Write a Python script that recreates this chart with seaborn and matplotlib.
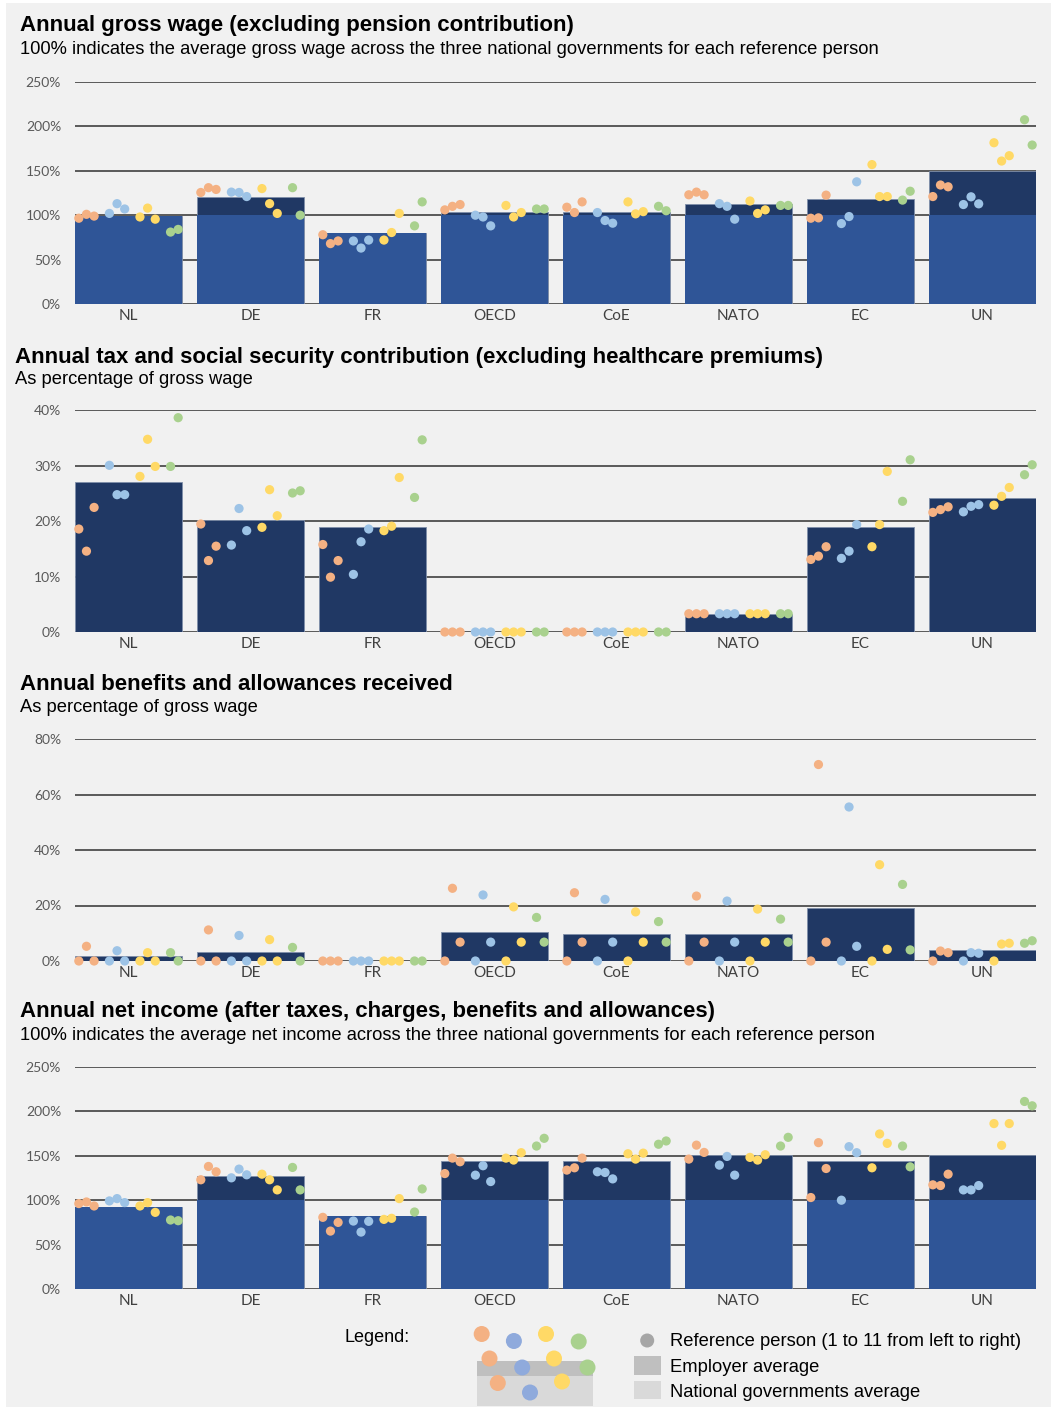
import numpy as np
import pandas as pd
import matplotlib
matplotlib.use("Agg")
import matplotlib.pyplot as plt
from matplotlib.patches import Rectangle, Circle
import seaborn as sns

# ---------------- data ----------------
categories = ["NL", "DE", "FR", "OECD", "CoE", "NATO", "EC", "UN"]
person_groups = ["A", "A", "A", "B", "B", "B", "C", "C", "C", "D", "D"]

gross_avg = [99.0, 121.0, 80.5, 104.0, 104.0, 113.0, 117.7, 149.6]
gross_national = 100.0
gross_persons = [
    [96.6, 101, 99, 102, 113, 107, 98, 108, 95.5, 81, 84],
    [125.6, 131, 129, 126, 125.6, 121, 130, 113, 102, 131, 100],
    [78, 68, 71, 71, 63, 72, 72, 80.5, 102, 88, 115],
    [106, 110, 112, 100, 98, 88, 111, 98, 103, 107, 107],
    [109, 103, 115, 103, 94, 91, 115, 101.5, 104, 110, 105],
    [123, 126, 123, 113, 110, 95.5, 116, 102, 106, 111, 111],
    [96.6, 97, 122.6, 90.6, 98.5, 137.6, 157, 121, 121, 117, 127],
    [121, 134, 132, 112, 120.7, 112.8, 181.6, 161, 167, 207.5, 179],
]

tax_avg = [27.0, 20.2, 19.0, 0.0, 0.0, 3.3, 19.0, 24.2]
tax_persons = [
    [18.6, 14.6, 22.5, 30.1, 24.8, 24.8, 28.1, 34.8, 29.9, 29.9, 38.7],
    [19.5, 12.9, 15.5, 15.7, 22.3, 18.3, 18.9, 25.7, 21.0, 25.1, 25.5],
    [15.8, 9.9, 12.9, 10.4, 16.3, 18.6, 18.3, 19.1, 27.9, 24.3, 34.7],
    [0, 0, 0, 0, 0, 0, 0, 0, 0, 0, 0],
    [0, 0, 0, 0, 0, 0, 0, 0, 0, 0, 0],
    [3.3, 3.3, 3.3, 3.3, 3.3, 3.3, 3.3, 3.3, 3.3, 3.3, 3.3],
    [13.1, 13.7, 15.4, 13.3, 14.6, 19.4, 15.4, 19.4, 29.0, 23.6, 31.1],
    [21.6, 22.1, 22.6, 21.7, 22.7, 23.0, 22.9, 24.5, 26.1, 28.4, 30.2],
]

benefit_avg = [1.8, 3.2, 0.0, 10.5, 9.7, 9.7, 19.2, 3.8]
benefit_persons = [
    [0, 5.3, 0, 0, 3.7, 0, 0, 3.0, 0, 3.0, 0],
    [0, 11.2, 0, 0, 9.2, 0, 0, 7.7, 0, 4.9, 0],
    [0, 0, 0, 0, 0, 0, 0, 0, 0, 0, 0],
    [0, 26.2, 6.8, 0, 23.8, 6.8, 0, 19.5, 6.8, 15.7, 6.8],
    [0, 24.6, 6.8, 0, 22.2, 6.8, 0, 17.7, 6.8, 14.2, 6.8],
    [0, 23.4, 6.8, 0, 21.6, 6.8, 0, 18.7, 6.8, 15.1, 6.8],
    [0, 70.8, 6.8, 0, 55.5, 5.3, 0, 34.7, 4.2, 27.6, 4.0],
    [0, 3.6, 3.0, 0, 3.0, 2.8, 0, 6.1, 6.4, 6.4, 7.3],
]

net_avg = [92.0, 126.7, 81.8, 144.4, 144.0, 150.8, 144.0, 150.8]
net_national = 100.0
net_persons = [
    [96.2, 98, 93.5, 99.2, 101.8, 97.3, 93.5, 97.3, 86.3, 77.7, 76.9],
    [123, 138, 132, 125.2, 135, 128.6, 129.3, 123, 111.6, 136.9, 111.6],
    [80.7, 65.2, 75, 76.5, 64.1, 76.2, 78.4, 79.6, 101.8, 86.7, 112.7],
    [130, 147.4, 143.3, 128.2, 138.8, 121, 147.4, 145.2, 153.5, 161, 169.7],
    [133.9, 136.5, 147.4, 132, 131.2, 124, 152.3, 146.3, 153, 163, 166.7],
    [146.3, 162, 153.8, 139.5, 149.3, 128.2, 148.2, 145.2, 151.2, 161, 170.8],
    [103, 164.8, 135.7, 100, 160.3, 153.5, 136.5, 174.6, 164, 161, 137.6],
    [117.3, 116.5, 129.3, 111.6, 111.6, 116.5, 186.3, 161.8, 186.3, 211.2, 206.3],
]

titles = [
    "Annual gross wage (excluding pension contribution)",
    "Annual tax and social security contribution (excluding healthcare premiums)",
    "Annual benefits and allowances received",
    "Annual net income (after taxes, charges, benefits and allowances)",
]
subtitles = [
    "100% indicates the average gross wage across the three national governments for each reference person",
    "As percentage of gross wage",
    "As percentage of gross wage",
    "100% indicates the average net income across the three national governments for each reference person",
]
yticks_list = [[0, 50, 100, 150, 200, 250], [0, 10, 20, 30, 40],
               [0, 20, 40, 60, 80], [0, 50, 100, 150, 200, 250]]

# ---------------- style ----------------
NAVY = "#203864"
MED = "#2F5597"
BG = "#F1F1F1"
GRID = "#404040"
palette = {"A": "#F4B183", "B": "#9DC3E6", "C": "#FFD966", "D": "#A9D18E"}
LEGEND_DOTS = ["#F4B183", "#8FAADC", "#FFD966", "#A9D18E"]

sns.set_style("white")
plt.rcParams["font.family"] = ["Liberation Sans", "DejaVu Sans"]
TICKFONT = ["Lato", "DejaVu Sans"]

W, H = 1051, 1407
fig = plt.figure(figsize=(W / 100, H / 100), dpi=100, facecolor="white")
fig.patches.append(Rectangle((6 / W, 0), 1 - 6 / W, 1 - 3 / H, transform=fig.transFigure,
                             facecolor=BG, edgecolor="none", zorder=-10))

BW = 0.877
SLOTS = [0, 1, 2, 4, 5, 6, 8, 9, 10, 12, 13]
LEFT, RIGHT = 75, 1036

panels = [
    dict(avg=gross_avg, persons=gross_persons, nat=gross_national, top=82, bottom=304),
    dict(avg=tax_avg, persons=tax_persons, nat=None, top=410.5, bottom=632),
    dict(avg=benefit_avg, persons=benefit_persons, nat=None, top=739, bottom=961),
    dict(avg=net_avg, persons=net_persons, nat=net_national, top=1067, bottom=1289),
]
title_pos = [(20, 26, 50), (15, 357, 380), (20, 684, 708), (20, 1011, 1036)]

for k, p in enumerate(panels):
    ax = fig.add_axes([LEFT / W, 1 - p["bottom"] / H, (RIGHT - LEFT) / W,
                       (p["bottom"] - p["top"]) / H])
    ax.set_facecolor("none")
    df = pd.DataFrame({"cat": categories, "avg": p["avg"]})
    sns.barplot(data=df, x="cat", y="avg", color=NAVY, saturation=1, width=BW,
                edgecolor="#7F8FA9", linewidth=0.6, ax=ax, zorder=2)
    if p["nat"] is not None:
        df["nat"] = np.minimum(df["avg"], p["nat"])
        sns.barplot(data=df, x="cat", y="nat", color=MED, saturation=1, width=BW,
                    linewidth=0, ax=ax, zorder=2.5)
    rows = []
    for i, c in enumerate(categories):
        for j, v in enumerate(p["persons"][i]):
            xpos = i - BW / 2 + (SLOTS[j] + 0.5) / 14 * BW
            rows.append({"x": xpos, "y": v, "grp": person_groups[j]})
    pts = pd.DataFrame(rows)
    sns.scatterplot(data=pts, x="x", y="y", hue="grp", palette=palette, s=44,
                    linewidth=0, legend=False, ax=ax, zorder=4, clip_on=False)

    yt = yticks_list[k]
    ax.set_xlim(-BW / 2, len(categories) - 1 + BW / 2)
    ax.set_ylim(0, yt[-1])
    ax.set_yticks(yt)
    ax.set_yticklabels([f"{t}%" for t in yt], fontfamily=TICKFONT, fontsize=10, color="#595959")
    ax.set_xticks(range(len(categories)))
    ax.set_xticklabels(categories, fontfamily=TICKFONT, fontsize=11, color="#404040")
    ax.tick_params(axis="y", length=0, pad=10)
    ax.tick_params(axis="x", length=0, pad=3.5)
    ax.set_xlabel("")
    ax.set_ylabel("")
    ax.yaxis.grid(True, color=GRID, linewidth=1.2)
    ax.xaxis.grid(False)
    ax.set_axisbelow(True)
    for s in ax.spines.values():
        s.set_visible(False)

    tx, ty, sy = title_pos[k]
    fig.text(tx / W, 1 - ty / H, titles[k], fontsize=16, fontweight="bold",
             color="#000000", va="center", ha="left")
    fig.text(tx / W, 1 - sy / H, subtitles[k], fontsize=13.2, color="#000000",
             va="center", ha="left")

# ---------------- legend ----------------
lax = fig.add_axes([0, 0, 1, 1])
lax.set_xlim(0, W)
lax.set_ylim(H, 0)
lax.axis("off")
lax.patch.set_alpha(0)
lax.text(345, 1337, "Legend:", fontsize=13, va="center", ha="left", color="#000000")
lax.add_patch(Rectangle((477, 1361), 116, 15, facecolor="#BFBFBF", edgecolor="none"))
lax.add_patch(Rectangle((477, 1376), 116, 30, facecolor="#D9D9D9", edgecolor="none"))
leg_dots = [
    (481.7, 1334, 0), (489.5, 1358.5, 0), (497.8, 1383, 0),
    (513.9, 1341, 1), (522.2, 1367.5, 1), (530, 1392.5, 1),
    (546, 1334, 2), (554, 1358.5, 2), (562, 1381.5, 2),
    (578.7, 1341.5, 3), (587.5, 1367.5, 3),
]
for x, y, c in leg_dots:
    lax.add_patch(Circle((x, y), 8, facecolor=LEGEND_DOTS[c], edgecolor="none"))
lax.add_patch(Circle((647.2, 1340.5), 7, facecolor="#A6A6A6", edgecolor="none"))
lax.add_patch(Rectangle((634.4, 1356), 26.6, 18.7, facecolor="#BFBFBF", edgecolor="none"))
lax.add_patch(Rectangle((634.4, 1380.5), 26.6, 18.5, facecolor="#D9D9D9", edgecolor="none"))
for y, t in [(1341.5, "Reference person (1 to 11 from left to right)"),
             (1367, "Employer average"), (1392.5, "National governments average")]:
    lax.text(670, y, t, fontsize=13.2, va="center", ha="left", color="#000000")

fig.savefig("out.png", dpi=100, facecolor=fig.get_facecolor())
